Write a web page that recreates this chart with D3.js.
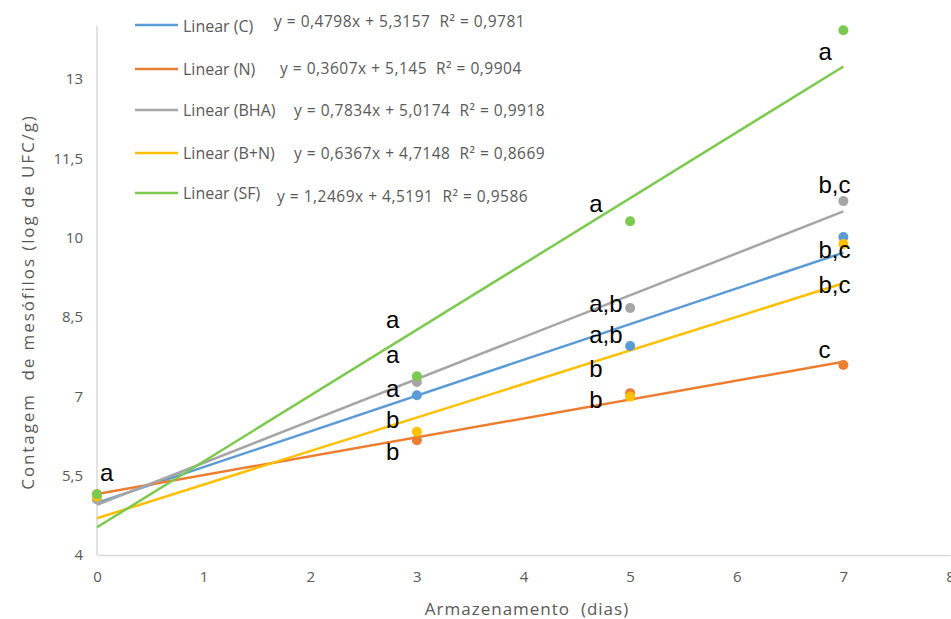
<!DOCTYPE html>
<html>
<head>
<meta charset="utf-8">
<script src="https://cdn.jsdelivr.net/npm/d3@7/dist/d3.min.js"></script>
<style>
  body { margin: 0; background: #fff; }
  svg { display: block; font-family: "Open Sans", "DejaVu Sans", sans-serif; }
  .pre { white-space: pre; }
</style>
</head>
<body>
<svg id="chart" width="951" height="619"></svg>
<script>
// Storage days
const days = [0, 3, 5, 7];

// Mesophile counts (log UFC/g) per treatment
const seriesNames = ["C", "N", "BHA", "B+N", "SF"];
const valuesC   = [5.10, 7.02, 7.95, 10.01];
const valuesN   = [5.15, 6.17, 7.06, 7.59];
const valuesBHA = [5.05, 7.27, 8.67, 10.69];
const valuesBN  = [5.10, 6.33, 6.99, 9.88];
const valuesSF  = [5.15, 7.38, 10.31, 13.92];

// Trendline equation labels (as reported) and R²
const eqLabels = ["y = 0,4798x + 5,3157", "y = 0,3607x + 5,145", "y = 0,7834x + 5,0174",
                  "y = 0,6367x + 4,7148", "y = 1,2469x + 4,5191"];
const r2       = ["0,9781", "0,9904", "0,9918", "0,8669", "0,9586"];

// Axis ticks
const xTicks = [0, 1, 2, 3, 4, 5, 6, 7, 8];
const yTicks = [4, 5.5, 7, 8.5, 10, 11.5, 13];
const yTickLabels = ["4", "5,5", "7", "8,5", "10", "11,5", "13"];

// Significance letters: day, vertical level (log UFC/g) and text
const letterDays   = [0, 3, 3, 3, 3, 3, 5, 5, 5, 5, 5, 7, 7, 7, 7, 7];
const letterLevels = [5.4, 8.29, 7.63, 6.99, 6.40, 5.80, 10.48, 8.59, 8.01, 7.36, 6.78, 13.36, 10.84, 9.61, 8.95, 7.72];
const letterTexts  = ["a", "a", "a", "a", "b", "b", "a", "a,b", "a,b", "b", "b", "a", "b,c", "b,c", "b,c", "c"];

const colors = ["#5b9bd5", "#ed7d31", "#a5a5a5", "#ffc000", "#7cc94f"];
const allValues = [valuesC, valuesN, valuesBHA, valuesBN, valuesSF];

const svg = d3.select("#chart");
const x = d3.scaleLinear().domain([0, 8]).range([97, 950]);
const y = d3.scaleLinear().domain([4, 14]).range([555, 26]);

// Least-squares linear fit of a series over the storage days
function linearFit(vals) {
  const mx = d3.mean(days), my = d3.mean(vals);
  const sxy = d3.sum(days, (d, i) => (d - mx) * (vals[i] - my));
  const sxx = d3.sum(days, d => (d - mx) * (d - mx));
  const slope = sxy / sxx;
  return { slope, intercept: my - slope * mx };
}

// Axes (no tick marks, light axis lines)
const xAxis = svg.append("g").attr("transform", `translate(0,${y(4)})`)
  .call(d3.axisBottom(x).tickValues(xTicks).tickSize(0).tickPadding(16).tickFormat(d3.format("d")));
const yAxis = svg.append("g").attr("transform", `translate(${x(0)},0)`)
  .call(d3.axisLeft(y).tickValues(yTicks).tickSize(0).tickPadding(14)
    .tickFormat((d, i) => yTickLabels[i]));
[xAxis, yAxis].forEach(g => {
  g.select(".domain").attr("stroke", "#d9d9d9").attr("stroke-width", 1.5);
  g.selectAll("text").attr("fill", "#595959").attr("font-size", 15)
    .attr("font-family", "Open Sans, sans-serif");
});
yAxis.select(".domain").attr("d", `M0,${y(14)}V${y(4)}`);

// Axis titles
svg.append("text").attr("class", "pre").attr("x", 527).attr("y", 615).attr("text-anchor", "middle")
  .attr("fill", "#595959").attr("font-size", 17).attr("letter-spacing", 1)
  .text("Armazenamento  (dias)");
svg.append("text").attr("class", "pre").attr("transform", "translate(34,302) rotate(-90)")
  .attr("text-anchor", "middle")
  .attr("fill", "#595959").attr("font-size", 17).attr("letter-spacing", 1.9)
  .text("Contagem  de mesófilos (log de UFC/g)");

// Trendlines fitted to each series
allValues.forEach((vals, i) => {
  const f = linearFit(vals);
  svg.append("line")
    .attr("x1", x(0)).attr("y1", y(f.intercept))
    .attr("x2", x(7)).attr("y2", y(f.intercept + f.slope * 7))
    .attr("stroke", colors[i]).attr("stroke-width", 2.5);
});

// Data points
allValues.forEach((vals, i) => {
  svg.append("g").selectAll("circle").data(vals).join("circle")
    .attr("cx", (d, j) => x(days[j])).attr("cy", d => y(d)).attr("r", 5)
    .attr("fill", colors[i]);
});

// Significance letters
const letterDx = { 0: 3, 3: -31, 5: -41, 7: -25 };
letterTexts.forEach((t, i) => {
  svg.append("text")
    .attr("x", x(letterDays[i]) + letterDx[letterDays[i]]).attr("y", y(letterLevels[i]))
    .attr("font-family", "Liberation Sans, Arial, sans-serif")
    .attr("font-size", 24).attr("fill", "#000").text(t);
});

// Legend with trendline equations
const legendY = [25, 69, 110, 153, 193];
const labelY  = [32, 75, 116, 159, 199];
const eqY     = [27, 74, 116, 159, 202];
const eqX     = [274, 280, 294, 294, 277];
seriesNames.forEach((name, i) => {
  svg.append("line").attr("x1", 135).attr("x2", 178).attr("y1", legendY[i]).attr("y2", legendY[i])
    .attr("stroke", colors[i]).attr("stroke-width", 2.5);
  svg.append("text").attr("x", 183).attr("y", labelY[i]).attr("font-size", 16)
    .attr("fill", "#595959").text(`Linear (${name})`);
  svg.append("text").attr("class", "pre").attr("x", eqX[i]).attr("y", eqY[i]).attr("font-size", 15.5)
    .attr("letter-spacing", 0.5).attr("fill", "#595959")
    .text(`${eqLabels[i]}  R² = ${r2[i]}`);
});
</script>
</body>
</html>
